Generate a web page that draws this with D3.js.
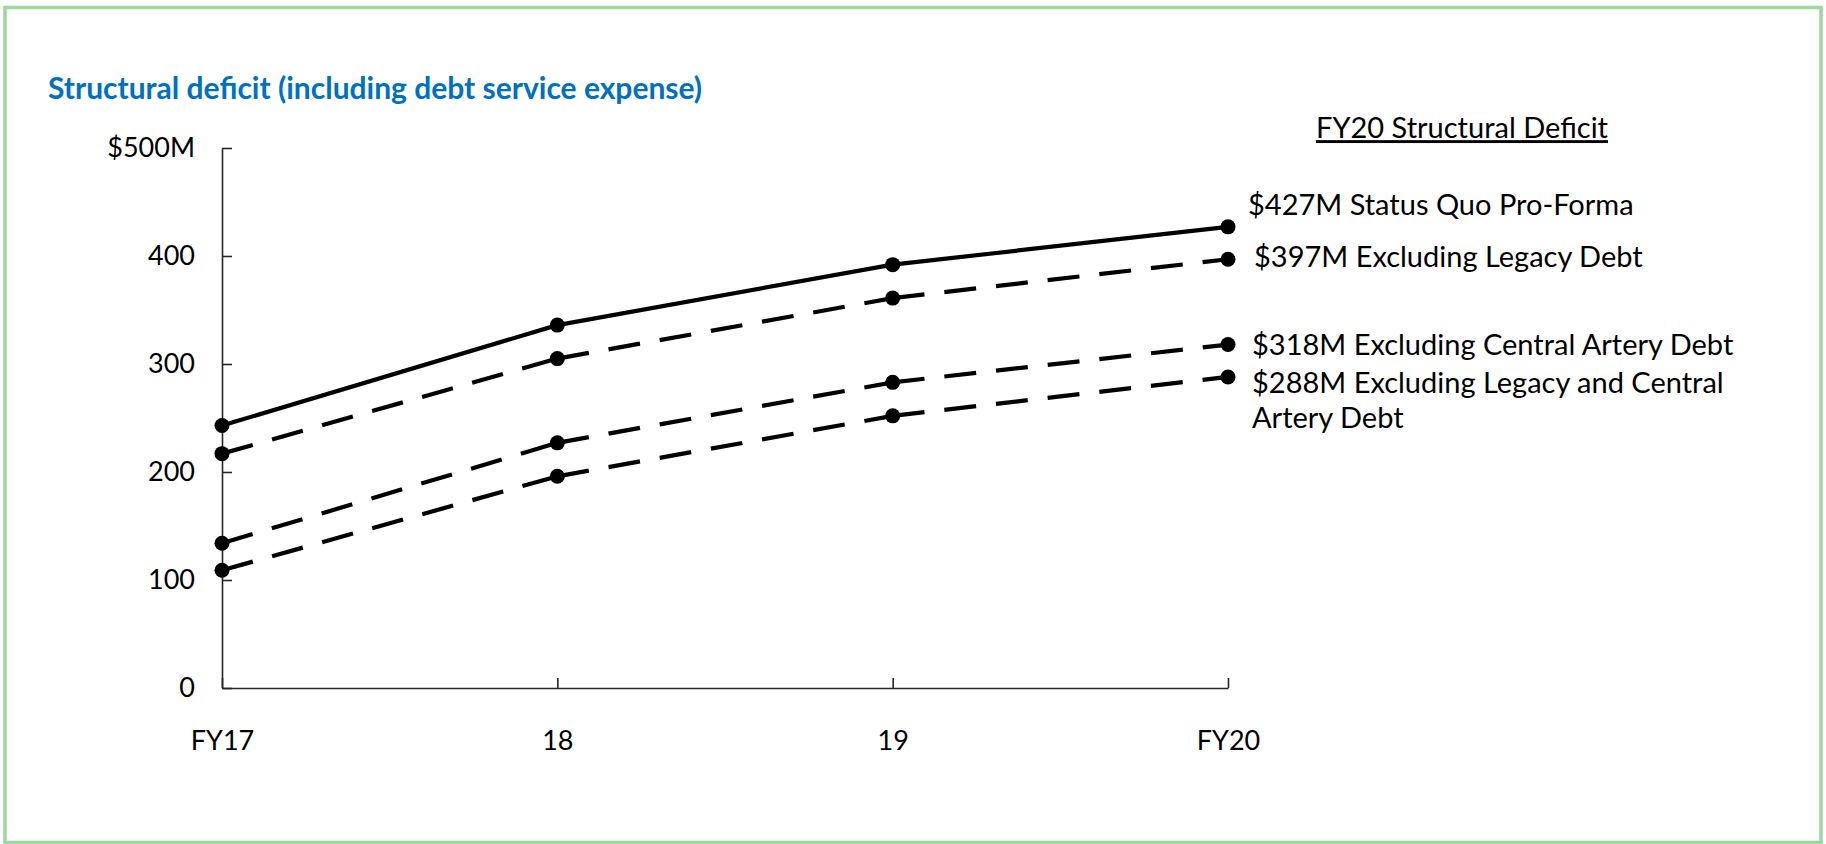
<!doctype html>
<meta charset="utf-8">
<script src="https://d3js.org/d3.v7.min.js"></script>
<style>
  body { margin: 0; background: #fff; }
  text { font-family: Lato, "Noto Sans", sans-serif; fill: #000; }
</style>
<body>
<svg width="1826" height="844"></svg>
<script>
  // years on the x axis
  var years = ["FY17", "18", "19", "FY20"];
  var yTicks = [0, 100, 200, 300, 400, 500];

  // structural deficit, $M
  var statusQuo = [243, 336, 392, 427];
  var exclLegacy = [217, 305, 361, 397];
  var exclCentral = [134, 227, 283, 318];
  var exclBoth = [109, 196, 252, 288];

  var seriesNames = ["Status Quo Pro-Forma", "Excluding Legacy Debt",
    "Excluding Central Artery Debt", "Excluding Legacy and Central Artery Debt"];
  // annotation text, one entry per line
  var labelLines = [
    ["$427M Status Quo Pro-Forma"],
    ["$397M Excluding Legacy Debt"],
    ["$318M Excluding Central Artery Debt"],
    ["$288M Excluding Legacy and Central", "Artery Debt"]
  ];

  var series = [
    { name: seriesNames[0], values: statusQuo, dashed: false },
    { name: seriesNames[1], values: exclLegacy, dashed: true },
    { name: seriesNames[2], values: exclCentral, dashed: true },
    { name: seriesNames[3], values: exclBoth, dashed: true }
  ];

  var svg = d3.select("svg");

  // green frame
  svg.append("rect")
    .attr("x", 5).attr("y", 7.5)
    .attr("width", 1816).attr("height", 835)
    .attr("fill", "none")
    .attr("stroke", "#9bd89b")
    .attr("stroke-width", 3.5);

  svg.append("text")
    .attr("x", 48)
    .attr("y", 99)
    .attr("font-size", "30px")
    .attr("font-weight", "bold")
    .style("fill", "#0070c0")
    .text("Structural deficit (including debt service expense)");

  var x = d3.scalePoint().domain(years).range([222, 1228]);
  var y = d3.scaleLinear().domain([0, 500]).range([688, 148]);

  // y axis, ticks point inward
  var yAxis = svg.append("g")
    .attr("transform", "translate(" + x(years[0]) + ",0)")
    .call(d3.axisLeft(y).tickValues(yTicks).tickSize(-10).tickSizeOuter(0).tickPadding(27)
      .tickFormat(function (d) { return d == 500 ? "$500M" : d; }));

  var xAxis = svg.append("g")
    .attr("transform", "translate(0," + y(0) + ")")
    .call(d3.axisBottom(x).tickSize(-10).tickSizeOuter(0).tickPadding(43));

  [yAxis, xAxis].forEach(function (g) {
    g.selectAll("path, line").attr("stroke", "#262626").attr("stroke-width", 1.6);
    g.selectAll("text").attr("font-size", "27px").style("font-family", "Lato, sans-serif").attr("fill", "#000");
  });

  var line = d3.line()
    .x(function (d) { return x(d[0]); })
    .y(function (d) { return y(d[1]); });

  // draw segment by segment so the dash pattern restarts at each point
  series.forEach(function (s) {
    var pts = s.values.map(function (v, i) { return [years[i], v]; });
    d3.pairs(pts).forEach(function (p) {
      svg.append("path")
        .attr("d", line(p))
        .attr("fill", "none")
        .attr("stroke", "#000")
        .attr("stroke-width", 4.2)
        .attr("stroke-dasharray", s.dashed ? "32,20" : null);
    });
    svg.selectAll(null)
      .data(pts)
      .enter().append("circle")
      .attr("cx", function (d) { return x(d[0]); })
      .attr("cy", function (d) { return y(d[1]); })
      .attr("r", 7.5)
      .attr("fill", "#000");
  });

  // FY20 annotations
  var last = years[years.length - 1];
  var labelDy = [-22, -2, 0, 6];
  var labelDx = [20, 26, 24, 24];

  svg.append("text")
    .attr("x", 1462)
    .attr("y", 128)
    .attr("dy", "0.35em")
    .attr("text-anchor", "middle")
    .attr("font-size", "29px")
    .attr("text-decoration", "underline")
    .text("FY20 Structural Deficit");

  series.forEach(function (s, i) {
    var t = svg.append("text")
      .attr("x", x(last) + labelDx[i])
      .attr("y", y(s.values[s.values.length - 1]) + labelDy[i])
      .attr("font-size", "29px");
    labelLines[i].forEach(function (l, j) {
      t.append("tspan")
        .attr("x", x(last) + labelDx[i])
        .attr("dy", j == 0 ? "0.35em" : "1.2em")
        .text(l);
    });
  });
</script>
</body>
